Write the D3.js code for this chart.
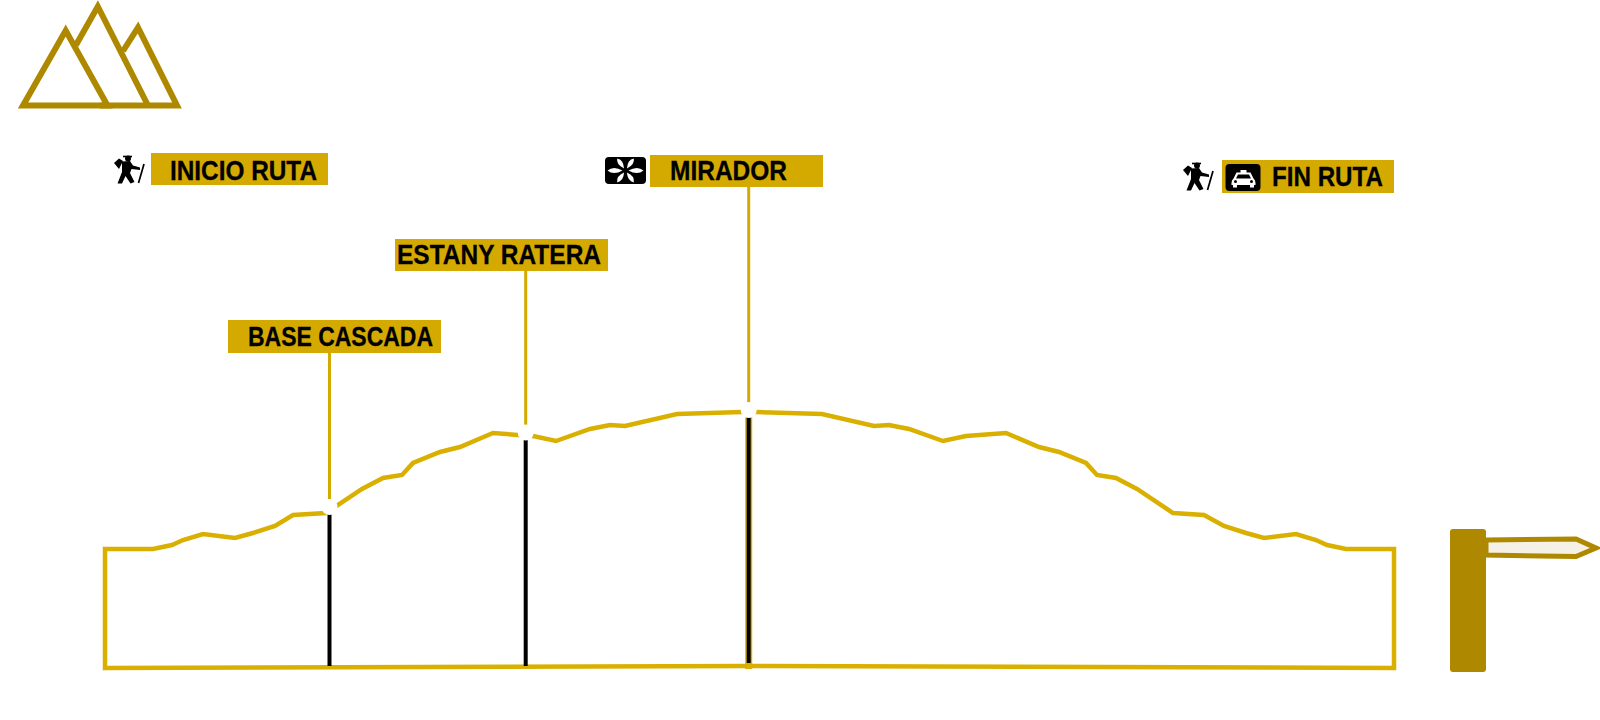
<!DOCTYPE html>
<html lang="en">
<head>
    <meta charset="UTF-8">
    <title>Perfil de ruta</title>
    <script src="https://d3js.org/d3.v7.min.js"></script>
    <style>
        html, body { margin: 0; padding: 0; background: #fff; }
        svg { display: block; }
        .label-text { font-family: "Liberation Sans", Arial, sans-serif; font-weight: bold; font-size: 28px; fill: #000; stroke: #000; stroke-width: 0.3px; }
    </style>
</head>
<body>
    <div id="chart"></div>

    <script>
        // Route profile (distance along route / height above base)
        var profileDist = [0, 48, 67, 78, 98, 130, 148, 170, 188, 221, 257, 278, 297, 308, 335, 355, 388, 413, 428, 451, 485, 505, 520, 572, 637, 652, 717, 769, 784, 804, 838, 861, 901, 934, 954, 981, 992, 1011, 1032, 1068, 1099, 1119, 1141, 1159, 1191, 1211, 1222, 1241, 1289];
        var profileAlt = [119, 119, 123, 128, 134, 130, 135, 142, 153, 155, 179, 190, 193, 205, 216, 221, 235, 233, 232, 227, 239, 243, 242, 254, 256, 256, 254, 242, 243, 239, 227, 232, 235, 221, 216, 205, 193, 190, 179, 155, 153, 142, 135, 130, 134, 128, 123, 119, 119];

        // Bottom edge bows up a little in the middle
        var baseDist = [0, 644, 1289];
        var baseAlt = [0, 2, 0];

        var stopNames = ["BASE CASCADA", "ESTANY RATERA", "MIRADOR"];
        var stopDist = [224.5, 420.7, 643.7];
        var stopAlt = [161, 235.5, 258];

        var endNames = ["INICIO RUTA", "FIN RUTA"];

        var gold = "#d9b000";
        var labelGold = "#d4a900";
        var dark = "#ae8900";

        var svg = d3.select("#chart").append("svg")
            .attr("width", 1600)
            .attr("height", 720);

        var x = d3.scaleLinear().domain([0, 1289]).range([105, 1394]);
        var y = d3.scaleLinear().domain([0, 300]).range([668, 368]);

        var line = d3.line()
            .x(function(d) { return x(d[0]); })
            .y(function(d) { return y(d[1]); });

        // Outline of the profile, closed by the base line
        var outline = profileDist.map(function(d, i) { return [d, profileAlt[i]]; });
        var base = baseDist.map(function(d, i) { return [d, baseAlt[i]]; }).reverse();

        svg.append("path")
            .attr("d", line(outline.concat(base)) + "Z")
            .attr("fill", "none")
            .attr("stroke", gold)
            .attr("stroke-width", 4.5)
            .attr("stroke-linejoin", "miter");

        // Leader lines above the stops
        var leaderTops = [352, 271, 187];
        stopDist.forEach(function(d, i) {
            svg.append("line")
                .attr("x1", x(d)).attr("x2", x(d))
                .attr("y1", leaderTops[i]).attr("y2", y(stopAlt[i]))
                .attr("stroke", labelGold)
                .attr("stroke-width", 3);
        });

        // Mirador pole has a gold casing
        svg.append("line")
            .attr("x1", x(stopDist[2])).attr("x2", x(stopDist[2]))
            .attr("y1", y(stopAlt[2])).attr("y2", 669)
            .attr("stroke", gold)
            .attr("stroke-width", 7);

        // Black poles down to the base
        var poleEnds = [666, 666, 663];
        stopDist.forEach(function(d, i) {
            svg.append("line")
                .attr("x1", x(d)).attr("x2", x(d))
                .attr("y1", y(stopAlt[i])).attr("y2", poleEnds[i])
                .attr("stroke", "#000")
                .attr("stroke-width", 4);
        });

        // White dots on the route
        svg.selectAll(".stop")
            .data(stopDist)
            .enter()
            .append("circle")
                .attr("class", "stop")
                .attr("cx", function(d) { return x(d); })
                .attr("cy", function(d, i) { return y(stopAlt[i]); })
                .attr("r", 8)
                .attr("fill", "#fff");

        function draw_label(name, bx, by, bw, bh, tx, tw, baseline) {
            svg.append("rect")
                .attr("x", bx).attr("y", by)
                .attr("width", bw).attr("height", bh)
                .attr("fill", labelGold);
            svg.append("text")
                .attr("class", "label-text")
                .attr("x", tx).attr("y", baseline)
                .attr("textLength", tw)
                .attr("lengthAdjust", "spacingAndGlyphs")
                .text(name);
        }

        draw_label(stopNames[0], 228, 320, 213, 33, 248, 185, 346);
        draw_label(stopNames[1], 395, 239, 213, 32, 397, 204, 264);
        draw_label(stopNames[2], 650, 155, 173, 32, 670, 117, 180);
        draw_label(endNames[0], 151, 153, 177, 32, 170, 147, 180);
        draw_label(endNames[1], 1222, 160, 172, 33, 1272, 111, 186);

        function draw_hiker(tx, ty) {
            var g = svg.append("g").attr("transform", "translate(" + tx + "," + ty + ")");
            g.append("circle").attr("cx", 20).attr("cy", 8.5).attr("r", 3).attr("fill", "#000");
            g.append("path").attr("d", "M15,6.5 L24,6.5").attr("stroke", "#000").attr("stroke-width", 1.6);
            g.append("path").attr("d", "M6,13 L11,8.5 L15,11 L11,19 Z").attr("fill", "#000");
            g.append("path")
                .attr("d", "M14,11.5 L22,11 L25,15.5 L32,17.5 L32,20 L23.5,19 L22,23 L26.5,32 L22.5,33.5 L17.5,26 L14,33.5 L9.5,33.5 L14,22 Z")
                .attr("fill", "#000");
            g.append("path").attr("d", "M36,14 L30.5,33").attr("stroke", "#000").attr("stroke-width", 1.7);
        }
        draw_hiker(108, 150);
        draw_hiker(1177, 157);

        // Mirador icon
        var eye = svg.append("g").attr("transform", "translate(625.5,170.5)");
        eye.append("rect")
            .attr("x", -20.5).attr("y", -13.5)
            .attr("width", 41).attr("height", 27)
            .attr("rx", 4)
            .attr("fill", "#000");
        [0, 180].forEach(function(a) {
            eye.append("path")
                .attr("d", "M3,0 Q12,-5 18,0 Q12,5 3,0 Z")
                .attr("transform", "rotate(" + a + ")")
                .attr("fill", "#fff");
        });
        [55, 125, 235, 305].forEach(function(a) {
            eye.append("path")
                .attr("d", "M2.5,0 Q10,-4.5 14.5,0 Q10,4.5 2.5,0 Z")
                .attr("transform", "rotate(" + a + ")")
                .attr("fill", "#fff");
        });

        // Taxi icon
        var taxi = svg.append("g").attr("transform", "translate(1222,160)");
        taxi.append("rect").attr("x", 3.5).attr("y", 4).attr("width", 35).attr("height", 27).attr("rx", 4).attr("fill", "#000");
        taxi.append("rect").attr("x", 18.5).attr("y", 10).attr("width", 6).attr("height", 3).attr("fill", "#fff");
        taxi.append("path")
            .attr("d", "M14.5,12.5 L28.5,12.5 L31.5,18.5 Q33.5,20 33.5,23 L33.5,25 L32,25 L32,27.5 L28,27.5 L28,25 L15,25 L15,27.5 L11,27.5 L11,25 L9.5,25 L9.5,23 Q9.5,20 11.5,18.5 Z")
            .attr("fill", "#fff");
        taxi.append("path").attr("d", "M16,14.5 L27,14.5 L29,18.5 L14,18.5 Z").attr("fill", "#000");
        taxi.append("circle").attr("cx", 13.5).attr("cy", 21.5).attr("r", 1.5).attr("fill", "#000");
        taxi.append("circle").attr("cx", 29.5).attr("cy", 21.5).attr("r", 1.5).attr("fill", "#000");

        // Mountains logo
        var logo = [
            "M23,105.5 L65.7,30.5 L107.5,105.5 Z",
            "M76,45 L97.8,6.5 L148,105.5",
            "M123,51 L138,27.5 L177,105.5 L100,105.5"
        ];
        logo.forEach(function(d) {
            svg.append("path")
                .attr("d", d)
                .attr("fill", "none")
                .attr("stroke", dark)
                .attr("stroke-width", 6);
        });

        // Signpost
        svg.append("path")
            .attr("d", "M1486,540 L1576,539 L1596,548 L1576,556.5 L1486,555 Z")
            .attr("fill", "#f5f1e6")
            .attr("stroke", dark)
            .attr("stroke-width", 5);
        svg.append("rect")
            .attr("x", 1450).attr("y", 529)
            .attr("width", 36).attr("height", 143)
            .attr("rx", 3)
            .attr("fill", dark);
    </script>
</body>
</html>
